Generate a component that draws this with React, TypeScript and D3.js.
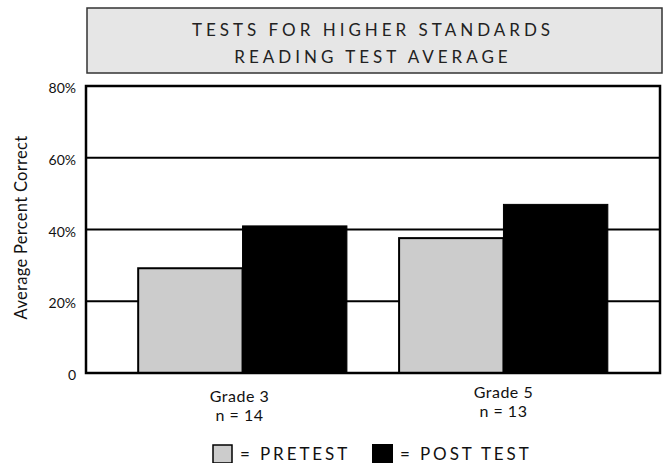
import React from "react";
import * as d3 from "d3";

const grades = ["Grade 3", "Grade 5"];
const groupSizes = ["n = 14", "n = 13"];
const series = ["PRETEST", "POST TEST"];
const pretest = [29.2, 37.6];
const postTest = [41.0, 47.0];
const yTicks = [0, 20, 40, 60, 80];
const titleLines = ["TESTS FOR HIGHER STANDARDS", "READING TEST AVERAGE"];

const W = 664;
const H = 463;
const FONT = "Lato, 'Open Sans', sans-serif";

const App = () => {
  const left = 86;
  const right = 660;
  const top = 86;
  const bottom = 373;

  const x = d3.scaleBand().domain(grades).range([left, right]).paddingInner(0.2).paddingOuter(0.2);
  const inner = d3.scaleBand().domain(series).range([0, x.bandwidth()]);
  const y = d3.scaleLinear().domain([0, 80]).range([bottom, top]);

  const values = [pretest, postTest];
  const fills = ["#cccccc", "#000000"];
  // small per-group label offsets seen in the original
  const labelDx = [-3, 0];
  const labelDy = [0, -4];

  return (
    <svg width={W} height={H} style={{ position: "absolute", left: 0, top: 0 }} fontFamily={FONT}>
      <rect x={0} y={0} width={W} height={H} fill="#fff" />

      {/* title box */}
      <rect x={87} y={8} width={575} height={65} fill="#e6e6e6" stroke="#333" strokeWidth={1.5} />
      {titleLines.map((t, i) => (
        <text key={t} x={373} y={36 + i * 27} textAnchor="middle" fontSize={17} letterSpacing={4} fill="#222">
          {t}
        </text>
      ))}

      {/* grid */}
      {yTicks.slice(1, -1).map((v) => (
        <line key={v} x1={left} x2={right} y1={y(v)} y2={y(v)} stroke="#000" strokeWidth={2} />
      ))}

      {/* bars */}
      {grades.map((g, gi) =>
        series.map((s, si) => (
          <rect
            key={g + s}
            x={(x(g) ?? 0) + (inner(s) ?? 0)}
            y={y(values[si][gi])}
            width={inner.bandwidth()}
            height={bottom - y(values[si][gi])}
            fill={fills[si]}
            stroke="#000"
            strokeWidth={si === 0 ? 2 : 1}
          />
        ))
      )}

      {/* frame */}
      <rect x={left} y={top} width={right - left} height={bottom - top} fill="none" stroke="#000" strokeWidth={2.5} />

      {/* y ticks */}
      {yTicks.map((v) => (
        <text key={v} x={76} y={y(v) + 7} textAnchor="end" fontSize={14} fill="#111">
          {v === 0 ? "0" : `${v}%`}
        </text>
      ))}
      <text
        transform={`translate(27,${(top + bottom) / 2 - 2}) rotate(-90)`}
        textAnchor="middle"
        fontSize={16.5}
        letterSpacing={0.3}
        fill="#111"
      >
        Average Percent Correct
      </text>

      {/* x labels */}
      {grades.map((g, i) => (
        <g key={g} transform={`translate(${(x(g) ?? 0) + x.bandwidth() / 2 + labelDx[i]},${labelDy[i]})`}>
          <text y={402} textAnchor="middle" fontSize={16} letterSpacing={0.5} fill="#111">{g}</text>
          <text y={421} textAnchor="middle" fontSize={16} letterSpacing={0.5} fill="#111">{groupSizes[i]}</text>
        </g>
      ))}

      {/* legend */}
      <rect x={213} y={445} width={19} height={18} fill="#cccccc" stroke="#000" strokeWidth={1.5} />
      <text x={240} y={460} fontSize={17} letterSpacing={2.9} fill="#111">= {series[0]}</text>
      <rect x={372} y={444} width={21} height={19} fill="#000" />
      <text x={400} y={460} fontSize={17} letterSpacing={2.9} fill="#111">= {series[1]}</text>
    </svg>
  );
};

export default App;
